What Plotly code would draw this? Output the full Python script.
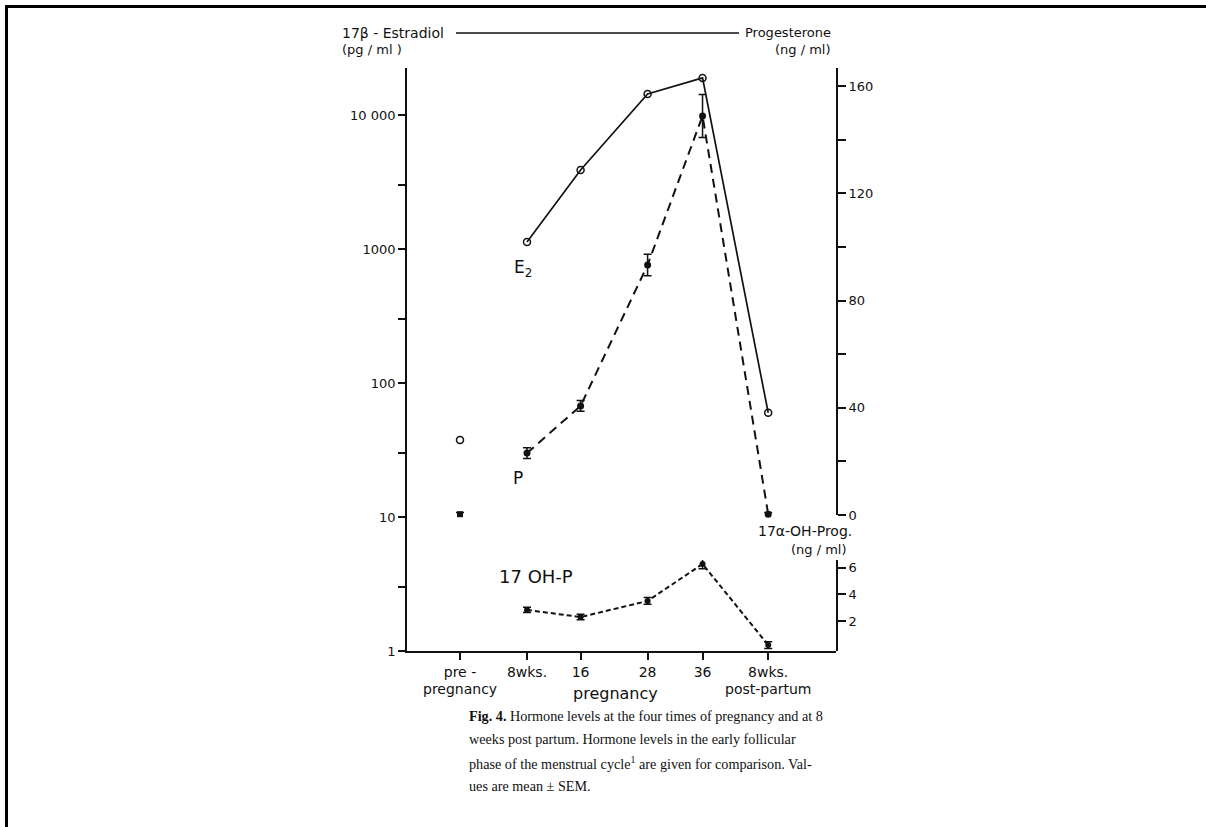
import plotly.graph_objects as go

# ---------------- data ----------------
tick_first = ["pre -", "8wks.", "16", "28", "36", "8wks."]
tick_second = ["pregnancy", "", "", "", "", "post-partum"]
stage_pos = [0, 1.0, 1.8, 2.8, 3.62, 4.6]          # position of each sampling time on the time axis

e2_pre = [37.5]                                    # pg/ml, early follicular phase
e2_vals = [1128, 3890, 14350, 18900, 60]           # 8wks, 16, 28, 36, 8wks post-partum

p_pre = [0.3]
p_pre_err = [0.6]
p_vals = [23.1, 40.7, 93.3, 148.9, 0.3]            # ng/ml
p_err = [2, 2, 4, 8, 0.6]

ohp_vals = [2.84, 2.31, 3.51, 6.27, 0.22]          # ng/ml
ohp_err = [0.2, 0.2, 0.25, 0.35, 0.25]

left_ticks = [1, 10, 100, 1000, 10000]
left_ticktext = ["1", "10", "100", "1000", "10 000"]
left_minor = [3, 30, 300, 3000]
p_ticks = [0, 40, 80, 120, 160]
p_minor = [20, 60, 100, 140]
ohp_ticks = [2, 4, 6]

caption = [
    "<b>Fig. 4.</b> Hormone levels at the four times of pregnancy and at 8",
    "weeks post partum. Hormone levels in the early follicular",
    "phase of the menstrual cycle<sup>1</sup> are given for comparison. Val-",
    "ues are mean ± SEM.",
]

# ---------------- geometry helpers (page pixels) ----------------
FW, FH = 1206, 827
L, R, T, B = 407, 836, 68, 651
W, H = R - L, B - T


def fx(px):
    return (px - L) / W


def fy(py):
    return (B - py) / H


SANS = "DejaVu Sans"
SERIF = "Liberation Serif"
BLACK = "#111111"

fig = go.Figure()
preg_x = stage_pos[1:]

# E2 (open circles, solid line)
fig.add_trace(go.Scatter(
    x=preg_x, y=e2_vals, mode="lines+markers",
    line=dict(color=BLACK, width=1.7),
    marker=dict(symbol="circle-open", size=7, color=BLACK, line=dict(width=1.5)),
    xaxis="x", yaxis="y", showlegend=False, cliponaxis=False))
fig.add_trace(go.Scatter(
    x=stage_pos[:1], y=e2_pre, mode="markers",
    marker=dict(symbol="circle-open", size=7, color=BLACK, line=dict(width=1.5)),
    xaxis="x", yaxis="y", showlegend=False, cliponaxis=False))

# Progesterone (filled, dashed)
fig.add_trace(go.Scatter(
    x=preg_x, y=p_vals, mode="lines+markers",
    line=dict(color=BLACK, width=2, dash="9px,6px"),
    marker=dict(symbol="circle", size=7, color=BLACK),
    error_y=dict(type="data", array=p_err, color=BLACK, thickness=1.5, width=4),
    xaxis="x", yaxis="y2", showlegend=False, cliponaxis=False))
fig.add_trace(go.Scatter(
    x=stage_pos[:1], y=p_pre, mode="markers",
    marker=dict(symbol="square", size=6, color=BLACK),
    error_y=dict(type="data", array=p_pre_err, color=BLACK, thickness=1.5, width=4),
    xaxis="x", yaxis="y2", showlegend=False, cliponaxis=False))

# 17 OH-P (short dashes)
fig.add_trace(go.Scatter(
    x=preg_x, y=ohp_vals, mode="lines+markers",
    line=dict(color=BLACK, width=2, dash="5px,3px"),
    marker=dict(symbol="circle", size=6, color=BLACK),
    error_y=dict(type="data", array=ohp_err, color=BLACK, thickness=1.5, width=4),
    xaxis="x", yaxis="y3", showlegend=False, cliponaxis=False))

tick_font = dict(family=SANS, size=13, color=BLACK)
x_font = dict(family=SANS, size=14, color=BLACK)

x_left = -(460 - L) / 67.0
x_right = (R - 460) / 67.0

fig.update_layout(
    width=FW, height=FH, autosize=False,
    margin=dict(l=L, r=FW - R, t=T, b=FH - B, pad=0),
    paper_bgcolor="white", plot_bgcolor="rgba(0,0,0,0)",
    font=tick_font,
    xaxis=dict(
        range=[x_left, x_right], domain=[0, 1], anchor="y",
        tickmode="array", tickvals=stage_pos, ticktext=tick_first,
        ticks="outside", ticklen=7, tickwidth=1.5, tickcolor=BLACK,
        showline=True, linecolor=BLACK, linewidth=1.8,
        showgrid=False, zeroline=False, tickfont=x_font,
    ),
    yaxis=dict(
        type="log", range=[0, (B - T) / 134.0], domain=[0, 1], anchor="x", side="left",
        tickmode="array", tickvals=left_ticks, ticktext=left_ticktext,
        ticks="outside", ticklen=7, tickwidth=1.5, tickcolor=BLACK,
        minor=dict(tickmode="array", tickvals=left_minor, ticks="outside",
                   ticklen=7, tickwidth=1.5, tickcolor=BLACK, showgrid=False),
        showline=True, linecolor=BLACK, linewidth=1.8,
        showgrid=False, zeroline=False, tickfont=tick_font,
    ),
    yaxis2=dict(
        range=[0, (515 - T) / 2.68], domain=[fy(515), 1], anchor="x", side="right",
        tickmode="array", tickvals=p_ticks,
        ticks="outside", ticklen=8, tickwidth=1.5, tickcolor=BLACK,
        minor=dict(tickmode="array", tickvals=p_minor, ticks="outside",
                   ticklen=8, tickwidth=1.5, tickcolor=BLACK, showgrid=False),
        showline=True, linecolor=BLACK, linewidth=1.8,
        showgrid=False, zeroline=False, tickfont=tick_font,
    ),
    yaxis3=dict(
        range=[-3 / 13.4, (B - 560) / 13.4 - 3 / 13.4], domain=[0, fy(560)],
        anchor="x", side="right",
        tickmode="array", tickvals=ohp_ticks,
        ticks="outside", ticklen=8, tickwidth=1.5, tickcolor=BLACK,
        showline=True, linecolor=BLACK, linewidth=1.8,
        showgrid=False, zeroline=False, tickfont=tick_font,
    ),
)

ann = []


def label(text, px, py, xanchor="left", size=14, family=SANS):
    ann.append(dict(text=text, x=fx(px), y=fy(py), xref="paper", yref="paper",
                    xanchor=xanchor, yanchor="middle", showarrow=False,
                    font=dict(family=family, size=size, color=BLACK)))


label("17β - Estradiol", 340, 33)
label("(pg / ml )", 340, 50, size=13)
label("Progesterone", 833, 33, "right", size=13)
label("(ng / ml)", 833, 50, "right", size=13)
label("E<sub>2</sub>", 512, 268, size=17)
label("P", 511, 478, size=17)
label("17 OH-P", 497, 576, size=18)
label("17α-OH-Prog.", 756, 531)
label("(ng / ml)", 849, 549, "right", size=13)
label("pregnancy", 615, 693, "center", size=16)

for pos, txt in zip(stage_pos, tick_second):
    if txt:
        px_pos = 460 + pos * 67.0
        label(txt, px_pos, 689, "center", size=14)

for i, line in enumerate(caption):
    label(line, 467, 716 + i * 23.4, size=14.2, family=SERIF)

fig.update_layout(annotations=ann)

shapes = [
    dict(type="line", xref="paper", yref="paper", x0=fx(456), x1=fx(739), y0=fy(33), y1=fy(33),
         line=dict(color=BLACK, width=1.3)),
    dict(type="line", xref="paper", yref="paper", x0=fx(5), x1=fx(1210), y0=fy(6.5), y1=fy(6.5),
         line=dict(color="black", width=3)),
    dict(type="line", xref="paper", yref="paper", x0=fx(6.5), x1=fx(6.5), y0=fy(5), y1=fy(830),
         line=dict(color="black", width=3)),
]
fig.update_layout(shapes=shapes)

fig.write_html("out.html", config={"displayModeBar": False},
               post_script="document.body.style.margin='0';")
